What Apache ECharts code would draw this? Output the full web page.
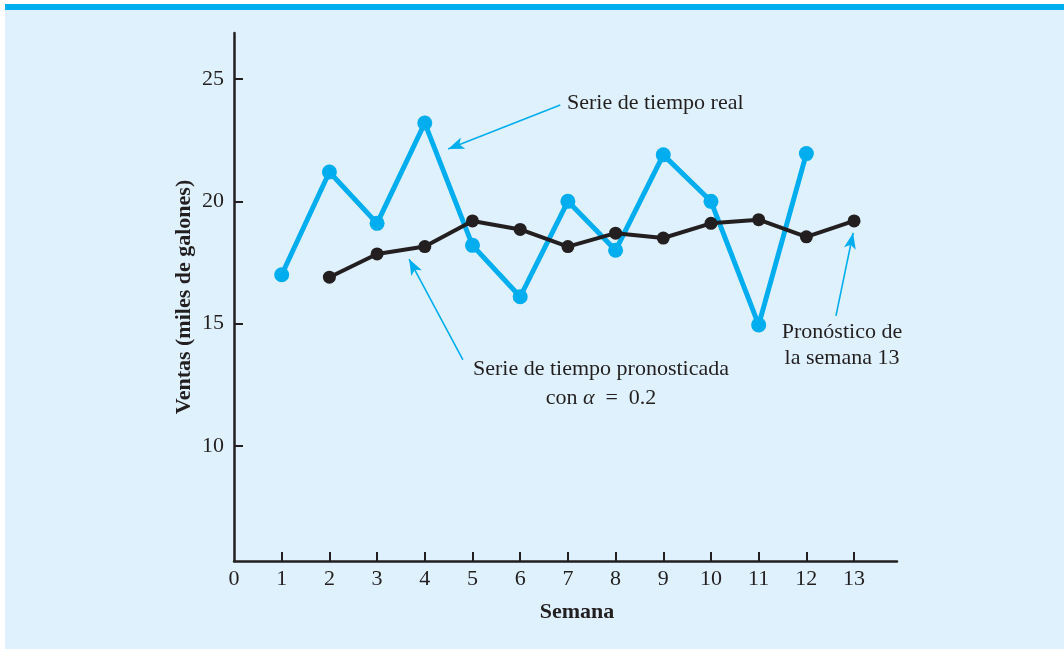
<!DOCTYPE html>
<html>
<head>
<meta charset="utf-8">
<script src="https://cdn.jsdelivr.net/npm/echarts@6/dist/echarts.min.js"></script>
<style>
html,body{margin:0;padding:0;background:#ffffff;}
#frame{position:absolute;left:5px;top:4px;width:1059px;height:645px;background:#dff1fc;border-top:6px solid #00aeef;box-sizing:border-box;}
#chart{position:absolute;left:0;top:0;width:1064px;height:649px;}
</style>
</head>
<body>
<div id="frame"></div>
<div id="chart"></div>
<script>
// Data
const weeks = [1,2,3,4,5,6,7,8,9,10,11,12,13];
const actualSales = [17.0, 21.2, 19.1, 23.2, 18.2, 16.1, 20.0, 18.0, 21.9, 20.0, 14.95, 21.95];
const forecastWeeks = [2,3,4,5,6,7,8,9,10,11,12,13];
const forecastSales = [16.9, 17.85, 18.15, 19.2, 18.85, 18.15, 18.7, 18.5, 19.1, 19.25, 18.55, 19.2];
const xTickLabels = [0,1,2,3,4,5,6,7,8,9,10,11,12,13];
const yTickLabels = [10,15,20,25];
// annotation arrows (data coordinates): [from, to]
const arrowActual = [[6.84, 23.94], [4.49, 22.14]];
const arrowForecast = [[4.80, 13.52], [3.67, 17.64]];
const arrowWeek13 = [[12.62, 15.32], [12.98, 18.71]];

const BLUE = '#00aeef';
const DARK = '#231f20';
const FONT = '"Liberation Serif", "Times New Roman", serif';
const FS = 22;

const chart = echarts.init(document.getElementById('chart'), null, {renderer: 'canvas'});

function arrowLine(pair) {
  return [{coord: pair[0]}, {coord: pair[1]}];
}

const option = {
  backgroundColor: 'transparent',
  animation: false,
  grid: {left: 234, right: 167, top: 33, bottom: 88, containLabel: false},
  xAxis: {
    type: 'value',
    min: 0, max: 13.9, interval: 1,
    name: 'Semana',
    nameLocation: 'middle',
    nameGap: 40,
    nameTextStyle: {fontFamily: FONT, fontSize: FS, fontWeight: 'bold', color: DARK, padding: [0,0,0,23]},
    axisLine: {show: true, lineStyle: {color: DARK, width: 2.5}},
    axisTick: {show: true, inside: true, length: 9, lineStyle: {color: DARK, width: 2}, customValues: weeks},
    axisLabel: {fontFamily: FONT, fontSize: FS, color: DARK, margin: 7, customValues: xTickLabels},
    splitLine: {show: false}
  },
  yAxis: {
    type: 'value',
    min: 5.3, max: 26.88,
    name: 'Ventas (miles de galones)',
    nameLocation: 'middle',
    nameGap: 39,
    nameMoveOverlap: false,
    nameTextStyle: {fontFamily: FONT, fontSize: FS, fontWeight: 'bold', color: DARK},
    axisLine: {show: true, lineStyle: {color: DARK, width: 2.5}},
    axisTick: {show: true, inside: true, length: 9, lineStyle: {color: DARK, width: 2}, customValues: yTickLabels},
    axisLabel: {fontFamily: FONT, fontSize: FS, color: DARK, margin: 10, customValues: yTickLabels},
    splitLine: {show: false}
  },
  series: [
    {
      name: 'Serie de tiempo real',
      type: 'line',
      data: weeks.slice(0, actualSales.length).map((w, i) => [w, actualSales[i]]),
      symbol: 'circle', symbolSize: 15,
      lineStyle: {color: BLUE, width: 5},
      itemStyle: {color: BLUE},
      z: 2,
      markLine: {
        silent: true,
        symbol: ['none', 'arrow'],
        symbolSize: [9, 16],
        lineStyle: {color: BLUE, width: 1.6, type: 'solid'},
        itemStyle: {color: BLUE},
        label: {show: false},
        data: [arrowLine(arrowActual), arrowLine(arrowForecast), arrowLine(arrowWeek13)]
      }
    },
    {
      name: 'Serie de tiempo pronosticada',
      type: 'line',
      data: forecastWeeks.map((w, i) => [w, forecastSales[i]]),
      symbol: 'circle', symbolSize: 13,
      lineStyle: {color: DARK, width: 4},
      itemStyle: {color: DARK},
      z: 3
    }
  ],
  graphic: [
    {type: 'text', x: 567, y: 103, style: {text: 'Serie de tiempo real', font: FS + 'px ' + FONT, fill: DARK, align: 'left', verticalAlign: 'middle'}},
    {type: 'text', x: 601, y: 369, style: {text: 'Serie de tiempo pronosticada', font: FS + 'px ' + FONT, fill: DARK, align: 'center', verticalAlign: 'middle'}},
    {type: 'text', x: 601, y: 398, style: {
      text: 'con {a|α}  =  0.2', font: FS + 'px ' + FONT, fill: DARK, align: 'center', verticalAlign: 'middle',
      rich: {a: {fontFamily: FONT, fontSize: FS, fontStyle: 'italic', fill: DARK}}
    }},
    {type: 'text', x: 842, y: 332, style: {text: 'Pronóstico de', font: FS + 'px ' + FONT, fill: DARK, align: 'center', verticalAlign: 'middle'}},
    {type: 'text', x: 842, y: 358, style: {text: 'la semana 13', font: FS + 'px ' + FONT, fill: DARK, align: 'center', verticalAlign: 'middle'}}
  ]
};
chart.setOption(option);
</script>
</body>
</html>
